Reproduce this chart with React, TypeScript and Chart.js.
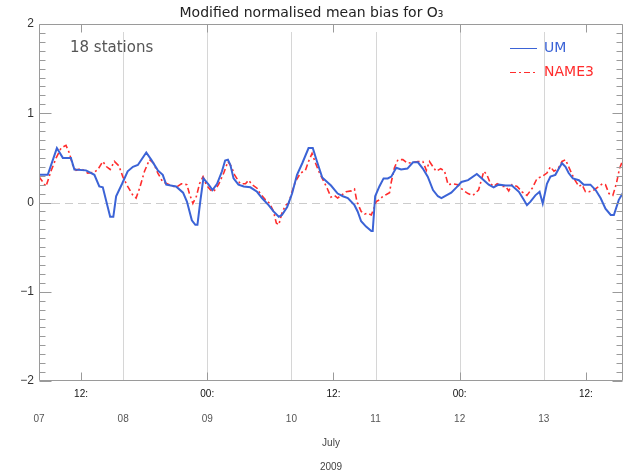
import React, { useEffect, useRef } from 'react';
import { Chart, registerables } from 'chart.js';

Chart.register(...registerables);

const chartTitle = 'Modified normalised mean bias for O\u2083';
const annotationText = '18 stations';
const seriesNames = ['UM', 'NAME3'];
const seriesColors = ['#3b63d6', '#ff2d2d'];

const dayTickHours = [0, 24, 48, 72, 96, 120, 144];
const dayTickLabels = ['07', '08', '09', '10', '11', '12', '13'];
const hourTickHours = [12, 48, 84, 120, 156];
const hourTickLabels = ['12:', '00:', '12:', '00:', '12:'];
const monthLabel = 'July';
const yearLabel = '2009';
const xMinHours = 0;
const xMaxHours = 166.6;
const yMin = -2;
const yMax = 2;

// hours since 2009-07-07 00:00
const umHours = [0, 2.5, 5.1, 6.8, 9.1, 10.1, 13.4, 15.8, 17.2, 18.2, 20.3, 21.2, 22, 23.7, 25.3, 26.8, 28.2, 30.6, 32, 33.9, 35.3, 36.3, 39.1, 41.1, 42.2, 43.6, 44.6, 45.2, 46, 46.9, 48.4, 49.5, 50.8, 52.2, 53.1, 53.9, 54.6, 55.5, 56.9, 58.4, 60.3, 62.2, 63.6, 65.5, 66.9, 68.4, 69.3, 70.8, 72.2, 73.6, 75.1, 76.9, 78.1, 79.3, 80.8, 82.2, 83.3, 85.2, 86.7, 88.1, 90, 90.9, 91.9, 93.3, 94.8, 95.2, 95.9, 97.1, 98.3, 99.5, 100.5, 101.9, 103.3, 105.1, 106.7, 108.1, 109.5, 110.9, 112.4, 113.8, 114.8, 116.2, 117.6, 119.1, 120.5, 122.4, 124.9, 126.9, 128.3, 129.7, 131.1, 133.1, 134.9, 136.9, 138.3, 139.2, 140.2, 141.6, 142.8, 143.7, 144.9, 145.9, 147.3, 148.3, 149.2, 150.2, 151.1, 152.3, 154, 155.4, 157.3, 158.8, 160.2, 161.6, 163.1, 164, 165.4, 166.6];
const umBias = [0.31, 0.31, 0.61, 0.50, 0.50, 0.37, 0.36, 0.31, 0.18, 0.17, -0.16, -0.16, 0.07, 0.21, 0.35, 0.40, 0.42, 0.56, 0.48, 0.36, 0.31, 0.20, 0.18, 0.11, 0.01, -0.20, -0.25, -0.25, 0.01, 0.27, 0.20, 0.14, 0.21, 0.35, 0.47, 0.48, 0.42, 0.27, 0.20, 0.18, 0.17, 0.12, 0.05, -0.03, -0.10, -0.16, -0.14, -0.05, 0.10, 0.31, 0.44, 0.61, 0.61, 0.46, 0.28, 0.23, 0.19, 0.10, 0.07, 0.05, -0.03, -0.10, -0.21, -0.27, -0.32, -0.32, 0.07, 0.18, 0.27, 0.27, 0.29, 0.39, 0.37, 0.38, 0.45, 0.45, 0.38, 0.29, 0.14, 0.07, 0.05, 0.08, 0.11, 0.17, 0.23, 0.25, 0.32, 0.25, 0.20, 0.17, 0.20, 0.19, 0.19, 0.12, 0.03, -0.03, 0.01, 0.08, 0.12, -0.01, 0.21, 0.29, 0.31, 0.38, 0.44, 0.40, 0.33, 0.27, 0.25, 0.20, 0.20, 0.14, 0.05, -0.07, -0.14, -0.14, 0.03, 0.11];

const name3Hours = [0, 2, 3.4, 4.9, 6.3, 7.7, 8.7, 9.6, 10.6, 12, 13.9, 15.8, 16.8, 18.2, 19.3, 20.3, 21.5, 22.8, 23.9, 25.3, 26.8, 27.7, 28.7, 30.1, 31.5, 32.7, 33.9, 35.3, 37.2, 39.1, 40.6, 42.2, 42.9, 43.9, 44.9, 45.8, 46.8, 47.7, 48.9, 49.8, 51.2, 52.7, 53.9, 54.9, 55.8, 57.4, 58.9, 59.8, 60.8, 62.2, 63.1, 64.6, 65.8, 66.9, 67.7, 68.4, 69.3, 70.3, 71.2, 72.2, 73.1, 74.6, 76, 76.9, 77.9, 78.9, 79.8, 80.8, 82.2, 83.3, 84.3, 85.2, 86.2, 87.6, 89.1, 90, 90.7, 91.9, 92.9, 93.8, 94.8, 95.5, 96.2, 97.1, 98.1, 99.1, 100, 100.5, 101.4, 102.4, 103.8, 105.2, 106.7, 108.1, 109.5, 110.5, 111.4, 112.4, 113.3, 114.6, 115.7, 116.7, 118.1, 119.5, 120.9, 122.4, 123.8, 125.4, 126.9, 127.8, 128.8, 129.7, 130.7, 132.1, 133.1, 134, 134.9, 136.4, 137.8, 139.2, 140.7, 142.1, 143.5, 144.9, 145.9, 146.9, 148.1, 149.2, 150.2, 151.1, 152.6, 154, 154.9, 155.9, 156.9, 158.3, 159.7, 160.7, 161.6, 162.6, 163.7, 164.7, 165.6, 166.4];
const name3Bias = [0.29, 0.18, 0.35, 0.50, 0.61, 0.64, 0.55, 0.42, 0.36, 0.38, 0.33, 0.34, 0.37, 0.46, 0.40, 0.37, 0.46, 0.41, 0.29, 0.18, 0.08, 0.05, 0.16, 0.35, 0.48, 0.44, 0.33, 0.23, 0.20, 0.17, 0.21, 0.20, 0.10, -0.01, 0.07, 0.21, 0.29, 0.20, 0.14, 0.12, 0.20, 0.33, 0.46, 0.40, 0.31, 0.21, 0.21, 0.25, 0.20, 0.16, 0.10, 0.03, -0.01, -0.10, -0.23, -0.25, -0.12, -0.03, -0.01, 0.12, 0.23, 0.33, 0.36, 0.46, 0.55, 0.44, 0.35, 0.27, 0.16, 0.06, 0.08, 0.05, 0.08, 0.12, 0.13, 0.15, 0.01, -0.10, -0.13, -0.12, -0.14, -0.07, 0.01, 0.03, 0.07, 0.09, 0.11, 0.23, 0.39, 0.48, 0.48, 0.44, 0.45, 0.46, 0.46, 0.36, 0.46, 0.40, 0.35, 0.38, 0.35, 0.20, 0.21, 0.20, 0.14, 0.10, 0.08, 0.14, 0.35, 0.31, 0.21, 0.18, 0.21, 0.18, 0.18, 0.13, 0.20, 0.18, 0.12, 0.08, 0.16, 0.27, 0.29, 0.33, 0.40, 0.35, 0.38, 0.46, 0.48, 0.40, 0.27, 0.18, 0.20, 0.12, 0.12, 0.14, 0.18, 0.21, 0.20, 0.10, 0.08, 0.21, 0.38, 0.46];

const framePlugin = {
  id: 'idlFrame',
  beforeDatasetsDraw(chart: any) {
    const { ctx, chartArea, scales } = chart;
    const { left, right, top, bottom } = chartArea;
    const xs = scales.x;
    const ys = scales.y;
    ctx.save();
    ctx.lineWidth = 1;
    ctx.strokeStyle = '#d6d6d6';
    for (const h of dayTickHours) {
      if (h <= xMinHours) continue;
      const px = Math.round(xs.getPixelForValue(h)) + 0.5;
      ctx.beginPath();
      ctx.moveTo(px, top + 8);
      ctx.lineTo(px, bottom);
      ctx.stroke();
    }
    ctx.setLineDash([8, 5]);
    ctx.strokeStyle = '#cccccc';
    const py0 = Math.round(ys.getPixelForValue(0)) + 0.5;
    ctx.beginPath();
    ctx.moveTo(left, py0);
    ctx.lineTo(right, py0);
    ctx.stroke();
    ctx.restore();
  },
  afterDatasetsDraw(chart: any) {
    const { ctx, chartArea, scales } = chart;
    const { left, right, top, bottom } = chartArea;
    const xs = scales.x;
    const ys = scales.y;
    ctx.save();
    ctx.lineWidth = 1;
    ctx.strokeStyle = '#9a9a9a';
    const L = left + 0.5;
    const R = right - 0.5;
    const T = top + 0.5;
    const B = bottom - 0.5;
    ctx.beginPath();
    ctx.moveTo(L, T);
    ctx.lineTo(R, T);
    ctx.lineTo(R, B);
    ctx.lineTo(L, B);
    ctx.closePath();
    ctx.stroke();
    // y ticks (inward), major at integers, minor every 0.1
    for (let i = yMin * 10; i <= yMax * 10; i++) {
      const v = i / 10;
      const py = Math.round(ys.getPixelForValue(v)) + 0.5;
      const major = i % 10 === 0;
      ctx.beginPath();
      ctx.moveTo(L, py);
      ctx.lineTo(L + (major ? 12 : 6), py);
      ctx.moveTo(R, py);
      ctx.lineTo(R - (major ? 10 : 6), py);
      ctx.stroke();
    }
    // x ticks (inward) top and bottom
    for (const h of hourTickHours) {
      const px = Math.round(xs.getPixelForValue(h)) + 0.5;
      ctx.beginPath();
      ctx.moveTo(px, B);
      ctx.lineTo(px, B - 8);
      ctx.moveTo(px, T);
      ctx.lineTo(px, T + 8);
      ctx.stroke();
    }
    // annotation
    ctx.font = '15px "DejaVu Sans"';
    ctx.fillStyle = '#555555';
    ctx.textBaseline = 'middle';
    ctx.textAlign = 'left';
    ctx.fillText(annotationText, left + 31, top + 24);
    // legend
    ctx.font = '14px "DejaVu Sans"';
    chart.data.datasets.forEach((ds: any, i: number) => {
      const y = top + 24 + i * 24 + 0.5;
      const x0 = right - 113;
      ctx.save();
      ctx.strokeStyle = ds.borderColor;
      ctx.lineWidth = 1;
      ctx.setLineDash(ds.borderDash || []);
      ctx.beginPath();
      ctx.moveTo(x0, y);
      ctx.lineTo(x0 + 27, y);
      ctx.stroke();
      ctx.restore();
      ctx.fillStyle = ds.borderColor;
      ctx.fillText(ds.label, x0 + 34, y);
    });
    ctx.restore();
  },
};

export default function App() {
  const canvasRef = useRef<HTMLCanvasElement | null>(null);

  useEffect(() => {
    const canvas = canvasRef.current;
    if (!canvas) return;
    const chart = new Chart(canvas, {
      type: 'line',
      data: {
        datasets: [
          {
            label: seriesNames[0],
            data: umHours.map((h, i) => ({ x: h, y: umBias[i] })),
            borderColor: seriesColors[0],
            borderWidth: 2,
            pointRadius: 0,
            tension: 0,
            xAxisID: 'x',
            yAxisID: 'y',
          },
          {
            label: seriesNames[1],
            data: name3Hours.map((h, i) => ({ x: h, y: name3Bias[i] })),
            borderColor: seriesColors[1],
            borderWidth: 1.6,
            borderDash: [6, 3, 2, 3],
            pointRadius: 0,
            tension: 0,
            xAxisID: 'x',
            yAxisID: 'y',
          },
        ],
      },
      options: {
        animation: false,
        responsive: false,
        maintainAspectRatio: false,
        layout: { padding: { left: 0, right: 0, top: 0, bottom: 0 } },
        plugins: {
          legend: { display: false },
          tooltip: { enabled: false },
          title: {
            display: true,
            text: chartTitle,
            color: '#222222',
            font: { family: '"DejaVu Sans"', size: 14, weight: 'normal', lineHeight: 1.2 },
            padding: { top: 5, bottom: 2.2 },
          },
        },
        scales: {
          x: {
            type: 'linear',
            position: 'bottom',
            min: xMinHours,
            max: xMaxHours,
            grid: { display: false, drawTicks: false },
            border: { display: false },
            afterBuildTicks: (scale: any) => {
              scale.ticks = hourTickHours.map((v) => ({ value: v }));
            },
            afterFit: (scale: any) => {
              scale.height = 24;
            },
            ticks: {
              autoSkip: false,
              maxRotation: 0,
              padding: 7,
              color: '#111111',
              font: { family: '"Liberation Sans"', size: 10, lineHeight: 1.2 },
              callback: (value: any) => {
                const idx = hourTickHours.indexOf(Number(value));
                return idx >= 0 ? hourTickLabels[idx] : '';
              },
            },
          },
          x2: {
            type: 'linear',
            position: 'bottom',
            min: xMinHours,
            max: xMaxHours,
            grid: { display: false, drawTicks: false },
            border: { display: false },
            afterBuildTicks: (scale: any) => {
              scale.ticks = dayTickHours.map((v) => ({ value: v }));
            },
            afterFit: (scale: any) => {
              scale.height = 69;
            },
            ticks: {
              autoSkip: false,
              maxRotation: 0,
              padding: 8,
              color: '#555555',
              font: { family: '"Liberation Sans"', size: 10, lineHeight: 1.2 },
              callback: (value: any) => {
                const idx = dayTickHours.indexOf(Number(value));
                return idx >= 0 ? dayTickLabels[idx] : '';
              },
            },
            title: {
              display: true,
              text: [monthLabel, '', yearLabel],
              color: '#444444',
              font: { family: '"Liberation Sans"', size: 10, lineHeight: 1.2 },
              padding: { top: 0, bottom: 1 },
            },
          },
          y: {
            type: 'linear',
            position: 'left',
            min: yMin,
            max: yMax,
            grid: { display: false, drawTicks: false },
            border: { display: false },
            afterFit: (scale: any) => {
              scale.width = 39;
            },
            ticks: {
              stepSize: 1,
              padding: 5,
              color: '#333333',
              font: { family: '"Liberation Sans"', size: 12 },
              callback: (value: any) => {
                const v = Math.round(Number(value));
                return v < 0 ? '\u2212' + Math.abs(v) : String(v);
              },
            },
          },
        },
      },
      plugins: [framePlugin],
    });
    return () => chart.destroy();
  }, []);

  return (
    <div style={{ position: 'absolute', left: 0, top: 0, width: 623, height: 474, background: '#ffffff' }}>
      <canvas ref={canvasRef} width={623} height={474} />
    </div>
  );
}
